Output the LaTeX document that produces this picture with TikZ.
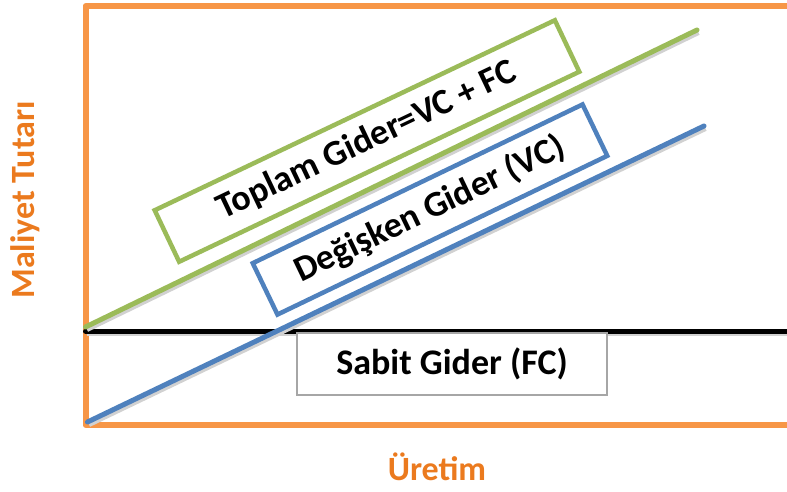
\documentclass[tikz,border=0pt]{standalone}
\usepackage{fontspec}
\setmainfont{Carlito}
\usetikzlibrary{calc,positioning}
\definecolor{axisorange}{HTML}{F79646}
\definecolor{labelorange}{HTML}{EB7A1E}
\definecolor{totalgreen}{HTML}{9BBB59}
\definecolor{varblue}{HTML}{4F81BD}
\tikzset{
    axis frame/.style={draw=axisorange,line width=6pt,line join=round,line cap=round},
    cost line/.style={line width=5pt,line cap=round,
        preaction={draw=black!18,line width=5pt,transform canvas={shift={(1.5pt,-2.5pt)}}}},
    cost box/.style={draw=#1,line width=4.5pt,fill=white,inner sep=0pt,
        font=\fontsize{36}{40}\bfseries\selectfont},
    axis label/.style={text=labelorange,font=\fontsize{34}{38}\bfseries\selectfont}
}

\begin{document}
\begin{tikzpicture}[x=1pt,y=-1pt]
        \useasboundingbox (0,0) rectangle (787,491);

        \coordinate (top) at (800,6);
        \coordinate (origin) at (85.5,425);
        \coordinate (fixed) at (85.5,331);
        \coordinate (fixedend) at (800,331);
        \coordinate (totalend) at (697,30);
        \coordinate (varend) at (704,126);

        \draw[axis frame] (top) -- (top -| origin) -- (origin) -- ++(720,0);

        \draw[cost line,black] (fixed) -- (fixedend);
        \draw[cost line,totalgreen] (85.5,327) -- (totalend);
        \draw[cost line,varblue] (origin) ++(2,-3) -- (varend);

        \node[cost box=totalgreen,minimum width=443,minimum height=57,rotate=25.4]
            (total) at (367,141) {Toplam Gider=VC + FC};
        \node[cost box=varblue,minimum width=366,minimum height=57,rotate=25.7]
            (var) at (430,209.5) {Değişken Gider (VC)};
        \node[draw=black!35,line width=1.5pt,fill=white,minimum width=310,minimum height=62,
            font=\fontsize{36}{40}\bfseries\selectfont] (fixedbox) at (452,364) {Sabit Gider (FC)};

        \node[axis label] (xlabel) at (437,467) {Üretim};
        \node[axis label,rotate=90] (ylabel) at (25,200) {Maliyet Tutarı};
    \end{tikzpicture}
\end{document}
